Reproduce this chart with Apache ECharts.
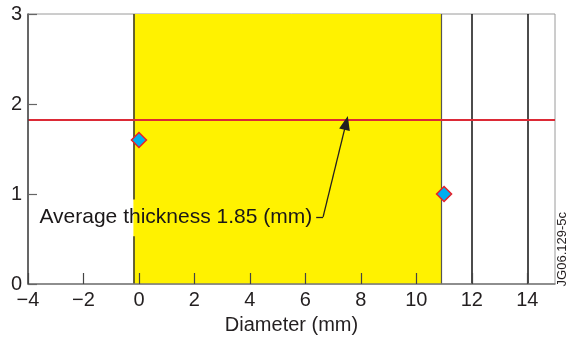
<!DOCTYPE html>
<html>
<head>
<meta charset="utf-8">
<script src="https://cdn.jsdelivr.net/npm/echarts@6/dist/echarts.min.js"></script>
<style>
  html, body { margin: 0; padding: 0; background: #fff; }
  #chart { width: 567px; height: 345px; }
</style>
</head>
<body>
<div id="chart"></div>
<script>
  // measured points (diameter mm, thickness)
  const pointX = [0, 11];
  const pointY = [1.6, 1.0];
  // yellow region and its edges
  const bandRange = [-0.2, 10.9];
  const bandEdgeGap = [0.53, 0.94]; // left edge line broken behind the label
  const verticalLines = [12, 14];
  const avgLine = 1.82;
  const avgLabel = 'Average thickness 1.85 (mm)';
  // leader: label end -> elbow -> arrow tip
  const leaderStart = [6.39, 0.745];
  const leaderElbow = [6.64, 0.745];
  const leaderTip = [7.47, 1.79];
  const xTicks = { min: -4, max: 15, interval: 2 };
  const yTicks = { min: 0, max: 3, interval: 1 };

  const fontFam = '"Liberation Sans", Arial, Helvetica, sans-serif';
  const chart = echarts.init(document.getElementById('chart'));

  const option = {
    animation: false,
    backgroundColor: '#fff',
    grid: {
      left: 28, right: 12, top: 14, bottom: 61,
      show: true, borderColor: '#9a9a9a', borderWidth: 1, backgroundColor: 'transparent'
    },
    xAxis: {
      type: 'value',
      z: 6,
      min: xTicks.min, max: xTicks.max, interval: xTicks.interval,
      name: 'Diameter (mm)', nameLocation: 'middle', nameGap: 31,
      nameTextStyle: { fontFamily: fontFam, fontSize: 20, color: '#231f20' },
      axisLine: { show: true, onZero: false, lineStyle: { color: '#7a7a7a', width: 1.5 } },
      axisTick: { show: true, inside: true, length: 11, lineStyle: { color: '#444', width: 1.2 } },
      axisLabel: {
        fontFamily: fontFam, fontSize: 20, color: '#231f20', margin: 6,
        showMaxLabel: false,
        formatter: v => (v < 0 ? '\u2212' + Math.abs(v) : String(v))
      },
      splitLine: { show: false }
    },
    yAxis: {
      type: 'value',
      z: 6,
      min: yTicks.min, max: yTicks.max, interval: yTicks.interval,
      axisLine: { show: true, onZero: false, lineStyle: { color: '#444', width: 1.5 } },
      axisTick: { show: true, inside: true, length: 9, lineStyle: { color: '#666', width: 1.2 } },
      axisLabel: { fontFamily: fontFam, fontSize: 20, color: '#231f20', margin: 6 },
      splitLine: { show: false }
    },
    series: [
      {
        // background: yellow band and reference lines
        type: 'line',
        data: [],
        silent: true,
        markArea: {
          silent: true,
          itemStyle: { color: '#fff200' },
          data: [[{ xAxis: bandRange[0] }, { xAxis: bandRange[1] }]]
        },
        markLine: {
          silent: true,
          symbol: ['none', 'none'],
          label: { show: false },
          data: [
            [{ coord: [bandRange[0], bandEdgeGap[1]] }, { coord: [bandRange[0], yTicks.max] }],
            [{ coord: [bandRange[0], yTicks.min] }, { coord: [bandRange[0], bandEdgeGap[0]] }],
            { xAxis: bandRange[1], lineStyle: { color: '#555', width: 1.2, type: 'solid' } },
            { xAxis: verticalLines[0], lineStyle: { color: '#111', width: 1.5, type: 'solid' } },
            { xAxis: verticalLines[1], lineStyle: { color: '#111', width: 1.5, type: 'solid' } },
            { yAxis: avgLine, lineStyle: { color: '#dc2a36', width: 2, type: 'solid' } }
          ],
          lineStyle: { color: '#333', width: 1.5, type: 'solid' }
        }
      },
      {
        // leader line with arrow
        type: 'line',
        data: [],
        silent: true,
        markLine: {
          silent: true,
          symbol: ['none', 'none'],
          label: { show: false },
          lineStyle: { color: '#231f20', width: 1.3, type: 'solid', opacity: 1 },
          data: [
            [{ coord: leaderStart }, { coord: leaderElbow }],
            [{ coord: leaderElbow }, { coord: leaderTip, symbol: 'triangle', symbolSize: [11, 14] }]
          ]
        }
      },
      {
        // annotation text anchored at leader start
        type: 'scatter',
        silent: true,
        symbolSize: 0,
        itemStyle: { opacity: 1 },
        data: [leaderStart],
        label: {
          show: true, position: 'left', distance: 4,
          formatter: avgLabel,
          fontFamily: fontFam, fontSize: 21, color: '#1a1718', opacity: 1
        },
        z: 5
      },
      {
        type: 'scatter',
        symbol: 'diamond',
        symbolSize: [15, 15],
        itemStyle: { color: '#00aeef', borderColor: '#e8202a', borderWidth: 1.5, opacity: 1 },
        data: pointX.map((x, i) => [x, pointY[i]]),
        z: 10
      }
    ],
    graphic: [
      {
        type: 'text',
        left: 556, top: 212,
        rotation: Math.PI / 2,
        style: { text: 'JG06.129-5c', fontFamily: fontFam, fontSize: 13, fill: '#231f20' }
      }
    ]
  };

  chart.setOption(option);
</script>
</body>
</html>
